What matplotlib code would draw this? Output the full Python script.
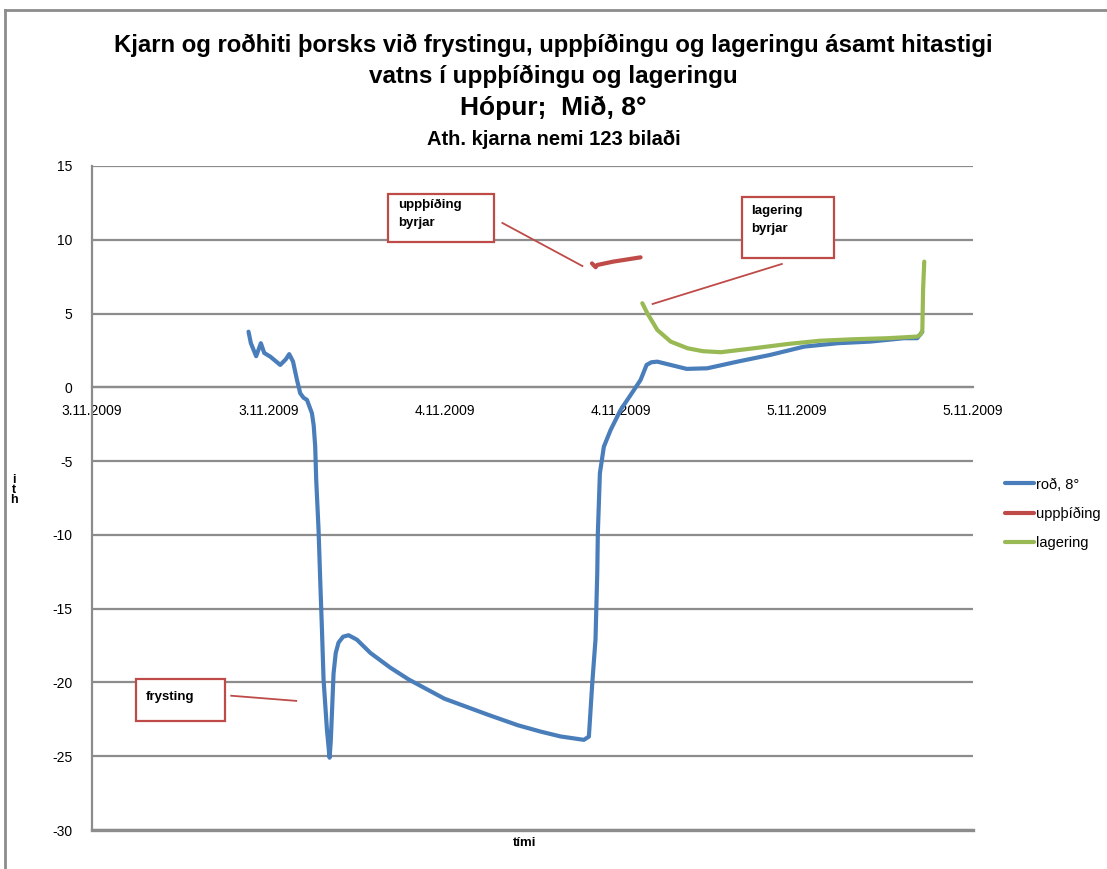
import numpy as np
import matplotlib
matplotlib.use("Agg")
import matplotlib.pyplot as plt
from matplotlib.patches import Rectangle
from matplotlib.lines import Line2D

plt.rcParams['font.family'] = ['Liberation Sans', 'DejaVu Sans']
plt.rcParams['axes.unicode_minus'] = False

# time in hours from 3.11.2009 00:00, temperature in °C
rod_hours = [10.66, 10.82, 11.18, 11.50, 11.73, 12.14, 12.82, 13.20, 13.43, 13.69, 13.96,
             14.18, 14.40, 14.64, 14.98, 15.10, 15.20, 15.27, 15.43, 15.54, 15.66, 15.77, 16.00,
             16.18, 16.26, 16.34, 16.45, 16.60, 16.79, 17.10, 17.47, 18.04, 18.96, 20.32, 21.57, 24.0,
             27.0, 29.0, 30.55, 31.91, 33.50, 33.84, 34.07, 34.29, 34.41, 34.45,
             34.59, 34.86, 35.32, 36.00, 36.91, 37.36, 37.77, 38.10, 38.50, 39.40, 40.50,
             41.90, 43.95, 46.20, 48.50, 50.80, 53.00, 55.30, 56.20, 56.55]
rod_temp = [3.77, 2.99, 2.11, 2.99, 2.33, 2.08, 1.52, 1.90, 2.25, 1.75, 0.50,
            -0.40, -0.70, -0.85, -1.76, -2.60, -4.0, -6.28, -9.66, -13.0, -16.4, -19.8, -23.2,
            -25.1, -24.0, -22.1, -19.4, -18.0, -17.3, -16.9, -16.8, -17.1, -18.0, -19.0, -19.8, -21.1,
            -22.2, -22.9, -23.33, -23.66, -23.89, -23.67, -20.05, -17.1, -12.6, -9.88,
            -5.82, -4.02, -2.89, -1.53, -0.18, 0.50, 1.52, 1.70, 1.74, 1.52, 1.25,
            1.29, 1.74, 2.20, 2.76, 2.99, 3.10, 3.33, 3.33, 3.77]

upp_hours = [34.05, 34.30, 34.40, 35.50, 37.36]
upp_temp = [8.40, 8.14, 8.29, 8.52, 8.81]

lag_hours = [37.48, 37.82, 38.50, 39.41, 40.55, 41.60, 42.82, 45.10, 47.40, 49.60, 51.90,
             54.20, 56.20, 56.45, 56.55, 56.60, 56.68]
lag_temp = [5.70, 5.02, 3.89, 3.10, 2.65, 2.45, 2.38, 2.65, 2.94, 3.16, 3.26,
            3.33, 3.44, 3.60, 3.89, 6.60, 8.52]

tick_hours = [0, 12, 24, 36, 48, 60]
tick_labels = ['3.11.2009', '3.11.2009', '4.11.2009', '4.11.2009', '5.11.2009', '5.11.2009']
y_ticks = list(range(-30, 16, 5))

BLUE = '#4A7EBB'
RED = '#BE4B48'
GREEN = '#98B954'
GRID = '#8C8C8C'

fig = plt.figure(figsize=(11.07, 8.69), dpi=100)
ax = fig.add_axes([92 / 1107, 1 - 830 / 869, (973 - 92) / 1107, (830 - 166) / 869])

ax.plot(rod_hours, rod_temp, color=BLUE, lw=3.0, solid_capstyle='round', solid_joinstyle='round',
        label='roð, 8°', zorder=3)
ax.plot(upp_hours, upp_temp, color=RED, lw=3.0, solid_capstyle='round', solid_joinstyle='round',
        label='uppþíðing', zorder=3)
ax.plot(lag_hours, lag_temp, color=GREEN, lw=3.0, solid_capstyle='round', solid_joinstyle='round',
        label='lagering', zorder=4)

ax.set_xlim(0, 60)
ax.set_ylim(-30, 15)
ax.set_yticks(y_ticks)
ax.set_xticks(tick_hours)
ax.set_xticklabels(tick_labels)
ax.grid(axis='y', color=GRID, lw=1.6)
ax.set_axisbelow(True)
for s in ['top', 'right']:
    ax.spines[s].set_visible(False)
ax.spines['left'].set_color(GRID)
ax.spines['left'].set_linewidth(1.6)
ax.spines['bottom'].set_position(('data', 0))
ax.spines['bottom'].set_color(GRID)
ax.spines['bottom'].set_linewidth(1.6)
ax.axhline(-30, color=GRID, lw=2.4, clip_on=False)
ax.tick_params(axis='both', length=0, labelsize=10, labelcolor='black')
ax.tick_params(axis='x', pad=12)
ax.tick_params(axis='y', pad=14)

# titles
for y, txt, size in [(45, 'Kjarn og roðhiti þorsks við frystingu, uppþíðingu og lageringu ásamt hitastigi', 17.2),
                     (76, 'vatns í uppþíðingu og lageringu', 17.5),
                     (108, 'Hópur;  Mið, 8°', 19),
                     (139, 'Ath. kjarna nemi 123 bilaði', 14.5)]:
    fig.text(0.5, 1 - y / 869, txt, ha='center', va='center', fontsize=size, fontweight='bold')

fig.text(525 / 1107, 1 - 843 / 869, 'tími', ha='center', va='center', fontsize=9.5, fontweight='bold')
fig.text(14 / 1107, 1 - 490 / 869, 'i\nt\nh', ha='center', va='center', fontsize=9,
         fontweight='bold', linespacing=0.75)

# annotation boxes with leader lines
notes = [
    ('uppþíðing\nbyrjar', (20.18, 9.85), 7.17, 3.25, 0.35, [(27.95, 11.14), (33.4, 8.22)]),
    ('lagering\nbyrjar', (44.25, 8.77), 6.27, 4.13, 0.55, [(46.98, 8.36), (38.18, 5.65)]),
    ('frysting', (3.0, -22.6), 6.07, 2.8, 0.75, [(9.48, -20.9), (13.91, -21.25)]),
]
for text, (x0, y0), w, h, top, seg in notes:
    ax.add_patch(Rectangle((x0, y0), w, h, fill=True, facecolor='white', edgecolor=RED,
                           lw=1.6, zorder=5, clip_on=False))
    ax.text(x0 + 0.65, y0 + h - top, text, ha='left', va='top', fontsize=9.5,
            fontweight='heavy', linespacing=1.6, zorder=6)
    ax.plot([seg[0][0], seg[1][0]], [seg[0][1], seg[1][1]], color=RED, lw=1.3, zorder=5)

ax.legend(loc='center left', bbox_to_anchor=(992 / 1107, 1 - 514 / 869),
          bbox_transform=fig.transFigure, frameon=False, fontsize=10.5,
          handlelength=2.0, handletextpad=0.1, labelspacing=1.05)

# outer frame
fig.add_artist(Line2D([5 / 1107, 5 / 1107], [0, 1 - 10 / 869], color=GRID, lw=2,
                      transform=fig.transFigure))
fig.add_artist(Line2D([5 / 1107, 1], [1 - 10 / 869, 1 - 10 / 869], color=GRID, lw=2,
                      transform=fig.transFigure))

fig.savefig('out.png', dpi=100)
